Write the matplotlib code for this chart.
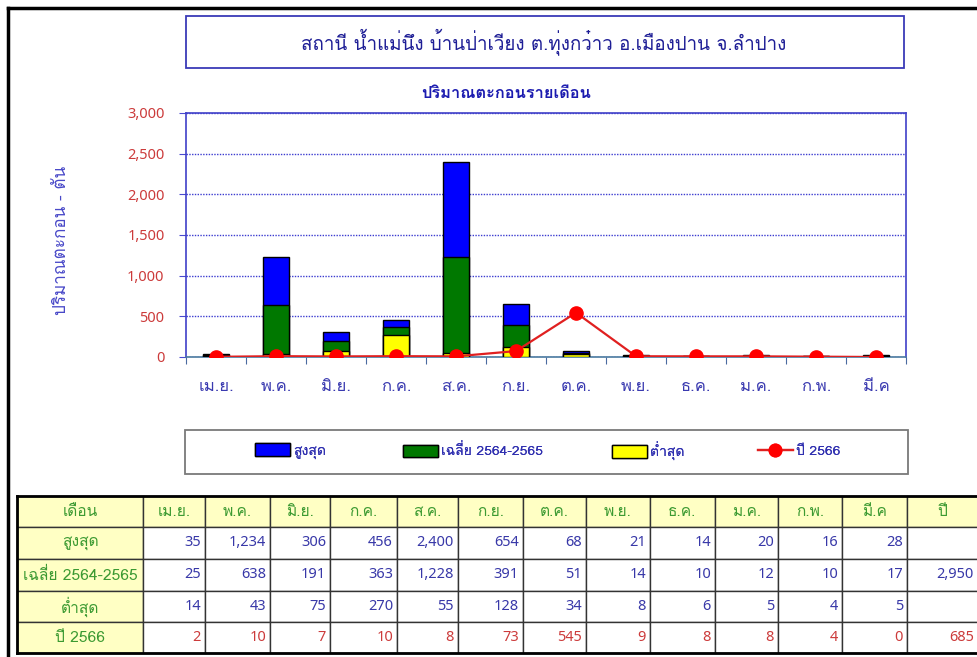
import matplotlib
matplotlib.use("Agg")
import matplotlib.pyplot as plt
from matplotlib.patches import Rectangle, Patch
from matplotlib.lines import Line2D
from matplotlib.ticker import FuncFormatter, FixedLocator

THAI = ['Loma', 'Noto Sans Thai', 'Noto Sans', 'DejaVu Sans']
plt.rcParams['font.family'] = THAI

months = ['เม.ย.', 'พ.ค.', 'มิ.ย.', 'ก.ค.', 'ส.ค.', 'ก.ย.', 'ต.ค.', 'พ.ย.', 'ธ.ค.', 'ม.ค.', 'ก.พ.', 'มี.ค']
max_vals = [35, 1234, 306, 456, 2400, 654, 68, 21, 14, 20, 16, 28]
avg_vals = [25, 638, 191, 363, 1228, 391, 51, 14, 10, 12, 10, 17]
min_vals = [14, 43, 75, 270, 55, 128, 34, 8, 6, 5, 4, 5]
y2566_vals = [2, 10, 7, 10, 8, 73, 545, 9, 8, 8, 4, 0]
avg_year = 2950
y2566_year = 685

series_names = ['สูงสุด', 'เฉลี่ย 2564-2565', 'ต่ำสุด', 'ปี 2566']
title = 'สถานี น้ำแม่นึง บ้านป่าเวียง ต.ทุ่งกว๋าว อ.เมืองปาน จ.ลำปาง'
subtitle = 'ปริมาณตะกอนรายเดือน'
ylabel = 'ปริมาณตะกอน - ตัน'
table_header = 'เดือน'
year_header = 'ปี'

W, H = 978, 657
fig = plt.figure(figsize=(W / 100, H / 100), dpi=100)


def fx(px):
    return px / W


def fy(py):
    return 1 - py / H


BLUE_TXT = '#3838a8'
RED_TXT = '#cc3b3b'
GREEN_TXT = '#3c9a32'
C_MAX, C_AVG, C_MIN, C_LINE = '#0000ff', '#007800', '#ffff00', '#e02020'

# outer frame (black)
fig.add_artist(Line2D([fx(8), fx(8)], [fy(8), 0], color='black', lw=2.5, transform=fig.transFigure))
fig.add_artist(Line2D([fx(8), 1], [fy(8), fy(8)], color='black', lw=2.5, transform=fig.transFigure))

# title box
fig.add_artist(Rectangle((fx(186), fy(68)), fx(904) - fx(186), fy(16) - fy(68),
                         transform=fig.transFigure, fill=False, edgecolor='#3a3ab8', lw=1.3))
fig.text(fx(544), fy(42), title, ha='center', va='center', fontsize=13.5, color='#1e1e96')
fig.text(fx(506), fy(94), subtitle, ha='center', va='center', fontsize=11.8,
         color='#1c1cb0', fontweight='bold')

# main axes
ax = fig.add_axes([fx(186), fy(357), fx(906) - fx(186), fy(113) - fy(357)])
x = list(range(len(months)))
bw = 0.42
ax.bar(x, max_vals, width=bw, color=C_MAX, edgecolor='black', lw=1.0, zorder=2)
ax.bar(x, avg_vals, width=bw, color=C_AVG, edgecolor='black', lw=1.0, zorder=3)
ax.bar(x, min_vals, width=bw, color=C_MIN, edgecolor='black', lw=1.0, zorder=4)
ax.plot(x, y2566_vals, color=C_LINE, lw=1.6, marker='o', markersize=9.5,
        markerfacecolor='#ff0000', markeredgecolor='#ff0000', zorder=5)

ax.set_xlim(-0.5, 11.5)
ax.set_ylim(0, 3000)
ax.set_yticks(range(0, 3001, 500))
ax.yaxis.set_major_formatter(FuncFormatter(lambda v, p: f'{int(v):,}'))
ax.yaxis.grid(True, color='#3c3cd0', linestyle=(0, (1, 1)), lw=1.0)
ax.set_axisbelow(True)
ax.tick_params(axis='y', colors='#4a4ad0', labelcolor=RED_TXT, labelsize=10.5,
               length=5, width=0.8, pad=10.5)
ax.set_xticks(x)
ax.set_xticklabels(months)
ax.tick_params(axis='x', which='major', length=0, labelsize=12, labelcolor='#3a3ab0', pad=16)
ax.xaxis.set_minor_locator(FixedLocator([i - 0.5 for i in range(13)]))
ax.tick_params(axis='x', which='minor', length=5, width=0.8, color='#4a6aa0', direction='out')
for s in ['left', 'top', 'right']:
    ax.spines[s].set_color('#4040c8')
    ax.spines[s].set_linewidth(1.2)
ax.spines['bottom'].set_color('#4a7aa0')
ax.spines['bottom'].set_linewidth(1.2)
for t in ax.get_yticklabels():
    t.set_fontfamily(['Noto Sans', 'DejaVu Sans'])

fig.text(fx(62), fy(240), ylabel, rotation=90, ha='center', va='center',
         fontsize=12.3, color='#4848c8')

# legend box and entries
fig.add_artist(Rectangle((fx(185), fy(474)), fx(908) - fx(185), fy(430) - fy(474),
                         transform=fig.transFigure, fill=False, edgecolor='#7a7a7a', lw=1.3))
handles = [Patch(facecolor=C_MAX, edgecolor='black', lw=1),
           Patch(facecolor=C_AVG, edgecolor='black', lw=1),
           Patch(facecolor=C_MIN, edgecolor='black', lw=1),
           Line2D([0], [0], color=C_LINE, lw=1.6, marker='o', markersize=9,
                  markerfacecolor='#ff0000', markeredgecolor='#ff0000')]
leg_x = [255, 403, 612, 758]
for h, name, lx in zip(handles, series_names, leg_x):
    lg = fig.legend([h], [name], loc='center left', bbox_to_anchor=(fx(lx), fy(451)),
                    frameon=False, fontsize=10, handlelength=2.5, handleheight=1.0,
                    handletextpad=0.25, borderpad=0, borderaxespad=0, labelcolor='#3030b0')
    fig.add_artist(lg)

# table
col_edges = [17, 143, 205, 270, 330, 397, 458, 523, 586, 650, 715, 778, 842, 907, 978]
row_edges = [496, 527, 559, 591, 622, 653]
YELLOW_BG = '#ffffc4'

rows = [
    [table_header] + months + [year_header],
    [series_names[0]] + [f'{v:,}' for v in max_vals] + [''],
    [series_names[1]] + [f'{v:,}' for v in avg_vals] + [f'{avg_year:,}'],
    [series_names[2]] + [f'{v:,}' for v in min_vals] + [''],
    [series_names[3]] + [f'{v:,}' for v in y2566_vals] + [f'{y2566_year:,}'],
]

for r in range(len(rows)):
    for c in range(len(col_edges) - 1):
        x0, x1 = col_edges[c], col_edges[c + 1]
        y0, y1 = row_edges[r], row_edges[r + 1]
        header = (r == 0 or c == 0)
        fig.add_artist(Rectangle((fx(x0), fy(y1)), fx(x1) - fx(x0), fy(y0) - fy(y1),
                                 transform=fig.transFigure,
                                 facecolor=YELLOW_BG if header else 'white',
                                 edgecolor='#333333', lw=1.0))
        txt = rows[r][c]
        if not txt:
            continue
        cy = (y0 + y1) / 2
        if header:
            fig.text(fx((x0 + x1) / 2), fy(cy), txt, ha='center', va='center',
                     fontsize=11.2, color=GREEN_TXT)
        else:
            color = RED_TXT if r == 4 else BLUE_TXT
            fig.text(fx(x1 - 4), fy(cy), txt, ha='right', va='center',
                     fontsize=10.5, color=color, family=['Noto Sans', 'DejaVu Sans'])

# thick outer table lines
fig.add_artist(Line2D([fx(17), 1], [fy(496), fy(496)], color='black', lw=2, transform=fig.transFigure))
fig.add_artist(Line2D([fx(17), 1], [fy(653), fy(653)], color='black', lw=2, transform=fig.transFigure))
fig.add_artist(Line2D([fx(17), fx(17)], [fy(496), fy(653)], color='black', lw=2, transform=fig.transFigure))

fig.savefig('out.png', dpi=100)
